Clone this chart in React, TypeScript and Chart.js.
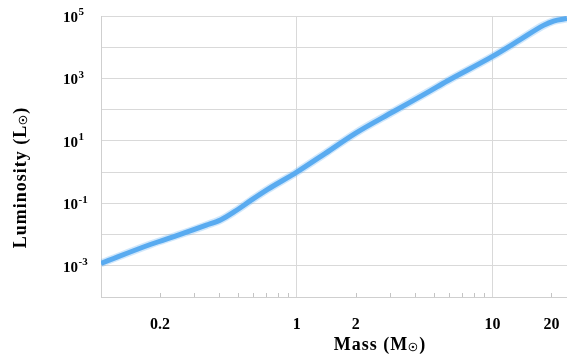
import { useEffect, useRef } from "react";
import { Chart, registerables } from "chart.js";

Chart.register(...registerables);

// Stellar mass (solar masses) and luminosity (solar luminosities)
const massSolar = [0.1, 0.18, 0.25, 0.345, 0.41, 0.48, 0.585, 0.71, 1.0, 1.4, 2.0, 3.14, 4.73, 5.87, 10, 13.9, 18.2, 20.5, 24];
const luminositySolar = [0.0012, 0.0049, 0.0098, 0.02, 0.03, 0.054, 0.126, 0.28, 1.0, 4.0, 17.8, 89, 380, 830, 5100, 17800, 50000, 69000, 83000];

// Axis ticks
const massTickLabels = [0.2, 1, 2, 10, 20];
const massAxisTicks = [0.1, 0.2, 0.3, 0.4, 0.5, 0.6, 0.7, 0.8, 0.9, 1, 2, 3, 4, 5, 6, 7, 8, 9, 10, 20];
const massMinorTicks = [0.2, 0.3, 0.4, 0.5, 0.6, 0.7, 0.8, 0.9, 2, 3, 4, 5, 6, 7, 8, 9, 20];
const massGridValues = [1, 10];
const luminosityDecades = [-4, -3, -2, -1, 0, 1, 2, 3, 4, 5];
const luminosityLabelExponents = [-3, -1, 1, 3, 5];

const FONT = '"Liberation Serif", "Times New Roman", serif';
const GRID = "#d9d9d9";

type Part = { text: string; size: number; dy: number };

function drawParts(ctx: CanvasRenderingContext2D, parts: Part[], cx: number, baseline: number, spacing: number) {
  ctx.save();
  (ctx as any).letterSpacing = spacing + "px";
  ctx.textAlign = "left";
  ctx.textBaseline = "alphabetic";
  let total = 0;
  const widths = parts.map((p) => {
    ctx.font = `bold ${p.size}px ${FONT}`;
    const w = ctx.measureText(p.text).width;
    total += w;
    return w;
  });
  let x = cx - total / 2;
  parts.forEach((p, i) => {
    ctx.font = `bold ${p.size}px ${FONT}`;
    ctx.fillText(p.text, x, baseline + p.dy);
    x += widths[i];
  });
  ctx.restore();
}

const axisDecorations = {
  id: "axisDecorations",
  afterDraw(chart: any) {
    const { ctx, chartArea, scales } = chart;
    const xs = scales.x;
    const ys = scales.y;
    ctx.save();

    // short inner tick marks on the mass axis
    ctx.strokeStyle = "#c4c4c4";
    ctx.lineWidth = 1;
    ctx.beginPath();
    for (const v of massMinorTicks) {
      const px = Math.round(xs.getPixelForValue(v)) + 0.5;
      ctx.moveTo(px, chartArea.bottom);
      ctx.lineTo(px, chartArea.bottom - 4);
    }
    ctx.stroke();

    // luminosity labels as powers of ten
    ctx.fillStyle = "#000";
    ctx.textAlign = "left";
    ctx.textBaseline = "middle";
    const labelLeft = chartArea.left - 38;
    for (const e of luminosityLabelExponents) {
      const py = ys.getPixelForValue(Math.pow(10, e));
      ctx.font = `bold 15px ${FONT}`;
      ctx.fillText("10", labelLeft, py + 2);
      const w = ctx.measureText("10").width;
      ctx.font = `bold 11px ${FONT}`;
      ctx.fillText(String(e), labelLeft + w + 0.5, py - 3.5);
    }

    // axis titles
    ctx.fillStyle = "#000";
    drawParts(
      ctx,
      [
        { text: "Mass (M", size: 18, dy: 0 },
        { text: "☉", size: 11, dy: 1 },
        { text: ")", size: 18, dy: 0 },
      ],
      (chartArea.left + chartArea.right) / 2 + 46,
      chart.height - 6,
      1
    );

    ctx.save();
    ctx.translate(20, (chartArea.top + chartArea.bottom) / 2 + 21);
    ctx.rotate(-Math.PI / 2);
    drawParts(
      ctx,
      [
        { text: "Luminosity (L", size: 18, dy: 0 },
        { text: "☉", size: 11, dy: 1 },
        { text: ")", size: 18, dy: 0 },
      ],
      0,
      6,
      1
    );
    ctx.restore();

    ctx.restore();
  },
};

export default function App() {
  const canvasRef = useRef<HTMLCanvasElement | null>(null);

  useEffect(() => {
    const canvas = canvasRef.current;
    if (!canvas) return;
    const points = massSolar.map((m, i) => ({ x: m, y: luminositySolar[i] }));

    const chart = new Chart(canvas, {
      type: "line",
      data: {
        datasets: [
          {
            data: points,
            borderColor: "rgba(100, 176, 242, 0.3)",
            borderWidth: 8,
            pointRadius: 0,
            cubicInterpolationMode: "monotone",
          },
          {
            data: points,
            borderColor: "#55a9f0",
            borderWidth: 5,
            pointRadius: 0,
            cubicInterpolationMode: "monotone",
          },
        ],
      },
      options: {
        responsive: false,
        animation: false,
        layout: { padding: { top: 16, right: 0, left: 0, bottom: 0 } },
        plugins: {
          legend: { display: false },
          tooltip: { enabled: false },
        },
        scales: {
          x: {
            type: "logarithmic",
            min: 0.1,
            max: 24,
            afterBuildTicks: (scale: any) => {
              scale.ticks = massAxisTicks.map((v) => ({ value: v }));
            },
            afterFit: (scale: any) => {
              scale.height = 59;
              scale.paddingLeft = 0;
              scale.paddingRight = 0;
            },
            grid: {
              drawTicks: false,
              color: (c: any) =>
                c.tick && massGridValues.includes(c.tick.value) ? GRID : "rgba(0,0,0,0)",
              lineWidth: 1,
            },
            border: { display: true, color: "#cfcfcf", width: 1 },
            ticks: {
              autoSkip: false,
              maxRotation: 0,
              padding: 18,
              color: "#000",
              font: { family: FONT, size: 16, weight: "bold" },
              callback: (v: any) => (massTickLabels.includes(Number(v)) ? String(v) : ""),
            },
          },
          y: {
            type: "logarithmic",
            min: 1e-4,
            max: 1e5,
            afterBuildTicks: (scale: any) => {
              scale.ticks = luminosityDecades.map((e) => ({ value: Math.pow(10, e) }));
            },
            afterFit: (scale: any) => {
              scale.width = 101;
              scale.paddingTop = 0;
              scale.paddingBottom = 0;
            },
            grid: { drawTicks: false, color: GRID, lineWidth: 1 },
            border: { display: true, color: "#cfcfcf", width: 1 },
            ticks: { display: false },
          },
        },
      },
      plugins: [axisDecorations],
    });

    return () => chart.destroy();
  }, []);

  return (
    <div style={{ position: "fixed", left: 0, top: 0, width: 567, height: 356, background: "#fff" }}>
      <canvas ref={canvasRef} width={567} height={356} style={{ display: "block" }} />
    </div>
  );
}
